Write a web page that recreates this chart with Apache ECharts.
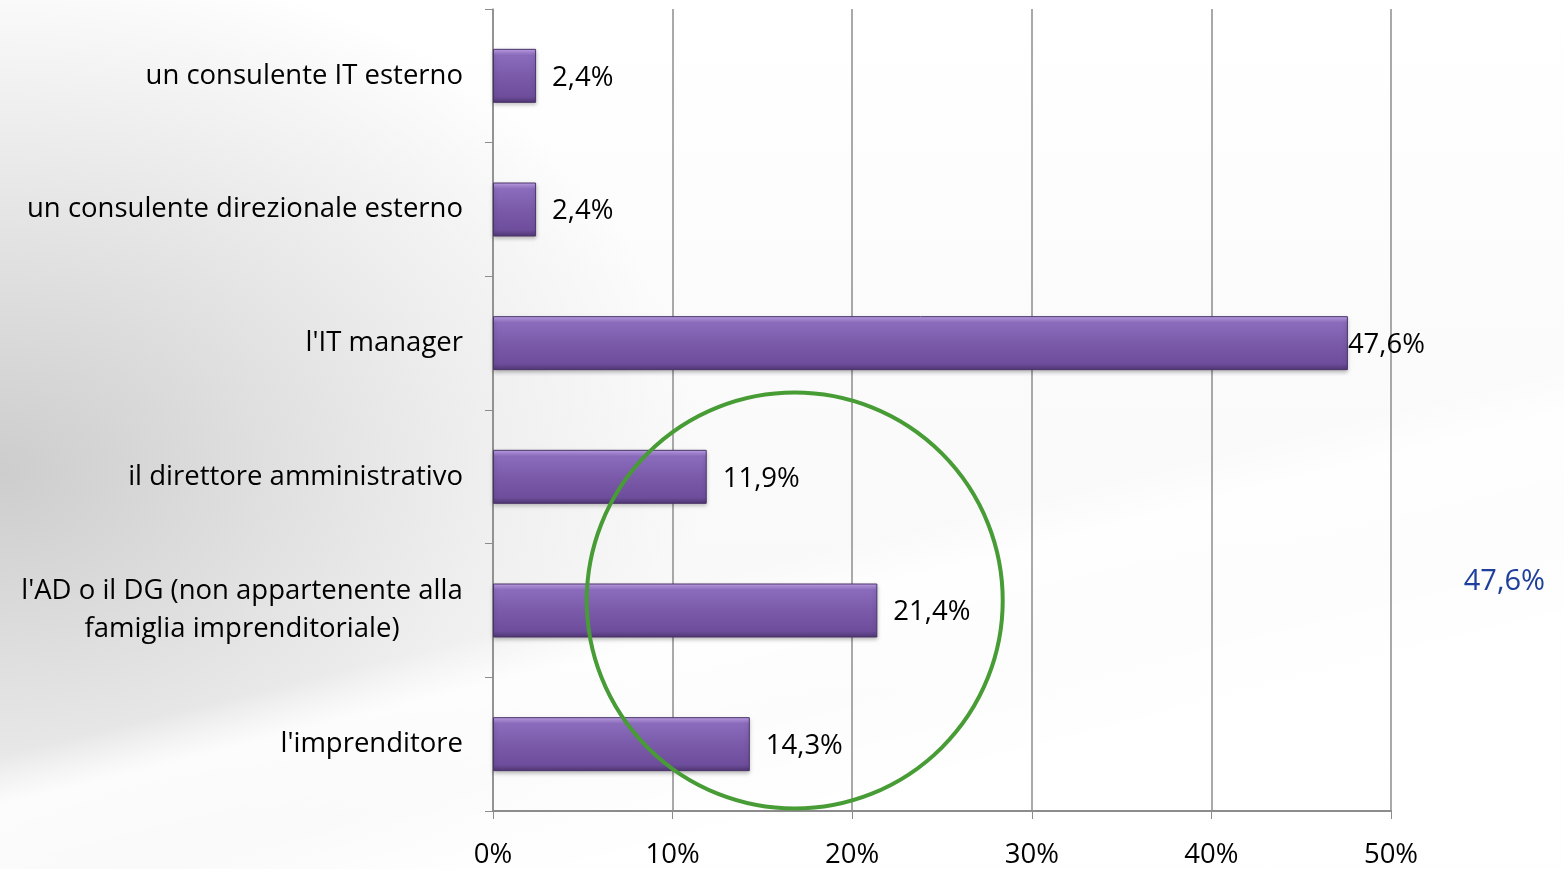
<!DOCTYPE html>
<html>
<head>
<meta charset="utf-8">
<script src="https://cdn.jsdelivr.net/npm/echarts@6/dist/echarts.min.js"></script>
<style>
html, body { margin: 0; padding: 0; }
#chart {
    width: 1564px;
    height: 869px;
    background:
        linear-gradient(166deg, rgba(255,255,255,0) 60%, rgba(255,255,255,0.85) 64%, rgba(255,255,255,0.6) 72%, rgba(255,255,255,0.95) 80%),
        radial-gradient(ellipse 700px 520px at 0px 470px, #cdcdcd 0%, #dedede 35%, #efefef 70%, rgba(255,255,255,0) 100%),
        linear-gradient(180deg, #ffffff 0%, #fafafa 50%, #f7f7f7 100%);
}
</style>
</head>
<body>
<div id="chart"></div>
<script>
// categories bottom -> top
const categories = [
    "l'imprenditore",
    "l'AD o il DG (non appartenente alla\nfamiglia imprenditoriale)",
    'il direttore amministrativo',
    "l'IT manager",
    'un consulente direzionale esterno',
    'un consulente IT esterno'
];
const values = [14.3, 21.4, 11.9, 47.6, 2.4, 2.4];
const xTicks = [0, 10, 20, 30, 40, 50];
const circleCenter = [16.8, 1]; // x value, category index
const noteText = '47,6%';

const FONT = 'Open Sans';
const FS = 27.5;

const fmt = v => v.toFixed(1).replace('.', ',') + '%';
const maxVal = Math.max(...values);

// measure text so the two-line category label is centred as a block
const ctx = document.createElement('canvas').getContext('2d');
ctx.font = FS + 'px "' + FONT + '"';
const multiWidth = Math.ceil(Math.max(...categories.filter(c => c.includes('\n'))
    .flatMap(c => c.split('\n')).map(l => ctx.measureText(l).width)));
const labelFormatter = v => {
    const lines = v.split('\n');
    if (lines.length === 1) return v;
    return lines.map(l => '{m|' + l + '}').join('\n');
};

const myChart = echarts.init(document.getElementById('chart'));

const option = {
    backgroundColor: 'transparent',
    textStyle: { fontFamily: FONT },
    grid: { left: 493, right: 173, top: 9, bottom: 58 },
    xAxis: {
        type: 'value',
        min: xTicks[0],
        max: xTicks[xTicks.length - 1],
        interval: 10,
        axisLine: { show: true, lineStyle: { color: '#8c8c8c', width: 2 } },
        axisTick: { show: true, length: 8, lineStyle: { color: '#8c8c8c' } },
        splitLine: { show: true, lineStyle: { color: '#8c8c8c', width: 1.5 } },
        axisLabel: {
            color: '#000',
            fontSize: FS,
            margin: 30,
            formatter: v => v + '%'
        }
    },
    yAxis: {
        type: 'category',
        data: categories,
        axisLine: { show: true, lineStyle: { color: '#8c8c8c', width: 1.5 } },
        axisTick: { show: true, length: 8, lineStyle: { color: '#8c8c8c' } },
        axisLabel: {
            color: '#000',
            fontSize: FS,
            margin: 30,
            lineHeight: 38,
            align: 'right',
            formatter: labelFormatter,
            rich: {
                m: {
                    width: multiWidth,
                    align: 'center',
                    fontSize: FS,
                    lineHeight: 38,
                    color: '#000'
                }
            }
        }
    },
    series: [
        {
            type: 'bar',
            barWidth: 54,
            data: values.map(v => ({
                value: v,
                label: { distance: v === maxVal ? 0 : 16 }
            })),
            itemStyle: {
                color: new echarts.graphic.LinearGradient(0, 0, 0, 1, [
                    { offset: 0, color: '#c3a6ee' },
                    { offset: 0.12, color: '#8b6bbc' },
                    { offset: 0.5, color: '#7a5aa9' },
                    { offset: 0.88, color: '#6e4e9c' },
                    { offset: 1, color: '#4f3673' }
                ]),
                borderColor: '#4a3368',
                borderWidth: 1,
                shadowColor: 'rgba(0,0,0,0.25)',
                shadowBlur: 4,
                shadowOffsetY: 2
            },
            label: {
                show: true,
                position: 'right',
                color: '#000',
                fontSize: FS,
                offset: [0, 2],
                formatter: p => fmt(p.value)
            },
            z: 2
        },
        {
            type: 'scatter',
            data: [circleCenter],
            symbol: 'circle',
            symbolSize: 416,
            symbolOffset: [0, -10],
            silent: true,
            itemStyle: {
                color: 'rgba(0,0,0,0)',
                borderColor: '#479c35',
                borderWidth: 4,
                opacity: 1
            },
            z: 3
        }
    ],
    graphic: [
        {
            type: 'text',
            right: 19,
            top: 567,
            style: {
                text: noteText,
                fill: '#1f3f9c',
                font: '29px "' + FONT + '"'
            }
        }
    ]
};

myChart.setOption(option);
</script>
</body>
</html>
